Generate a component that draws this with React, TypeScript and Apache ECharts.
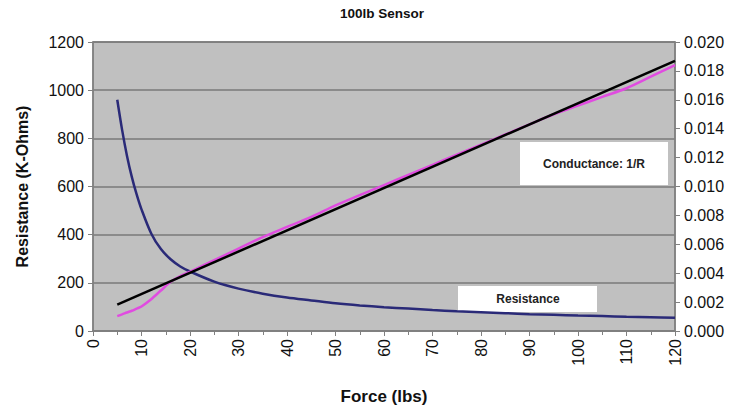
import React, { useEffect, useRef } from "react";
import * as echarts from "echarts";

const titleText = "100lb Sensor";
const xName = "Force (lbs)";
const yLeftName = "Resistance (K-Ohms)";

const forceValues = [5, 6, 7, 8, 9, 10, 12, 14, 16, 18, 20, 25, 30, 35, 40, 45, 50, 55, 60, 65, 70, 75, 80, 85, 90, 95, 100, 105, 110, 115, 120];
const resistanceValues = [960, 835, 728, 640, 567, 505, 405, 340, 298, 268, 247, 205, 176, 155, 139, 127, 115, 106, 99, 93, 87, 82, 78, 74, 70, 67, 64, 62, 59, 57, 55];
const conductanceValues = [0.00103, 0.00115, 0.00128, 0.0014, 0.00155, 0.0017, 0.0022, 0.0028, 0.0034, 0.0038, 0.0041, 0.0049, 0.0057, 0.0065, 0.0072, 0.0079, 0.0087, 0.0094, 0.0101, 0.0108, 0.0115, 0.0122, 0.0129, 0.0136, 0.0143, 0.015, 0.0156, 0.0162, 0.0168, 0.0176, 0.0184];
const fitForce = [5, 120];
const fitConductance = [0.00183, 0.0187];

const legendConductance = "Conductance: 1/R";
const legendResistance = "Resistance";

export default function App() {
  const ref = useRef<HTMLDivElement>(null);
  useEffect(() => {
    if (!ref.current) return;
    const chart = echarts.init(ref.current, undefined, { renderer: "svg" });
    const font = "Liberation Sans, Arial, sans-serif";
    const pairs = (xs: number[], ys: number[]) => xs.map((x, i) => [x, ys[i]]);
    chart.setOption({
      animation: false,
      backgroundColor: "#ffffff",
      textStyle: { fontFamily: font },
      grid: {
        left: 93,
        right: 61,
        top: 42,
        bottom: 76,
        show: true,
        backgroundColor: "#c0c0c0",
        borderColor: "#808080",
        borderWidth: 1.5,
      },
      xAxis: {
        type: "value",
        min: 0,
        max: 120,
        interval: 10,
        name: xName,
        nameLocation: "middle",
        nameGap: 57,
        nameTextStyle: { fontFamily: font, fontSize: 17, fontWeight: "bold", color: "#111" },
        axisLine: { show: true, lineStyle: { color: "#808080", width: 1.5 } },
        axisTick: { show: true, length: 5, lineStyle: { color: "#808080" } },
        minorTick: { show: true, splitNumber: 2, length: 4, lineStyle: { color: "#808080" } },
        splitLine: { show: false },
        axisLabel: { rotate: 90, fontSize: 16, color: "#111", fontFamily: font, margin: 8 },
      },
      yAxis: [
        {
          type: "value",
          min: 0,
          max: 1200,
          interval: 200,
          position: "left",
          name: yLeftName,
          nameLocation: "middle",
          nameGap: 63,
          nameTextStyle: { fontFamily: font, fontSize: 16, fontWeight: "bold", color: "#111" },
          axisLine: { show: true, lineStyle: { color: "#808080", width: 1.5 } },
          axisTick: { show: true, length: 5, lineStyle: { color: "#808080" } },
          splitLine: { show: true, lineStyle: { color: "#7a7a7a", width: 1.5 } },
          axisLabel: { fontSize: 16, color: "#111", fontFamily: font, margin: 9, formatter: (v: number) => String(v) },
        },
        {
          type: "value",
          min: 0,
          max: 0.02,
          interval: 0.002,
          position: "right",
          axisLine: { show: true, lineStyle: { color: "#808080", width: 1.5 } },
          axisTick: { show: true, length: 5, lineStyle: { color: "#808080" } },
          splitLine: { show: false },
          axisLabel: {
            fontSize: 16,
            color: "#111",
            fontFamily: font,
            margin: 9,
            formatter: (v: number) => v.toFixed(3),
          },
        },
      ],
      series: [
        {
          name: legendResistance,
          type: "line",
          yAxisIndex: 0,
          data: pairs(forceValues, resistanceValues),
          smooth: 0.3,
          showSymbol: false,
          lineStyle: { color: "#2a2a78", width: 2.5 },
          z: 3,
        },
        {
          name: legendConductance,
          type: "line",
          yAxisIndex: 1,
          data: pairs(forceValues, conductanceValues),
          smooth: 0.3,
          showSymbol: false,
          lineStyle: { color: "#e04ce0", width: 2.5 },
          z: 3,
        },
        {
          name: "Linear fit",
          type: "line",
          yAxisIndex: 1,
          data: pairs(fitForce, fitConductance),
          showSymbol: false,
          lineStyle: { color: "#000000", width: 2.5 },
          z: 4,
        },
      ],
      graphic: [
        {
          type: "text",
          left: 384 - 44,
          top: 6,
          style: { text: titleText, fontFamily: font, fontSize: 13.5, fontWeight: "bold", fill: "#111" },
        },
        {
          type: "group",
          left: 520,
          top: 142,
          z: 10,
          children: [
            { type: "rect", shape: { x: 0, y: 0, width: 148, height: 43 }, style: { fill: "#ffffff" } },
            {
              type: "text",
              x: 74,
              y: 22,
              style: { text: legendConductance, fontFamily: font, fontSize: 12, fontWeight: "bold", fill: "#222", align: "center", verticalAlign: "middle" },
            },
          ],
        },
        {
          type: "group",
          left: 458,
          top: 286,
          z: 10,
          children: [
            { type: "rect", shape: { x: 0, y: 0, width: 139, height: 26 }, style: { fill: "#ffffff" } },
            {
              type: "text",
              x: 70,
              y: 13,
              style: { text: legendResistance, fontFamily: font, fontSize: 12, fontWeight: "bold", fill: "#222", align: "center", verticalAlign: "middle" },
            },
          ],
        },
      ],
    });
    return () => chart.dispose();
  }, []);
  return <div ref={ref} style={{ width: 736, height: 410, position: "absolute", left: 0, top: 0 }} />;
}
